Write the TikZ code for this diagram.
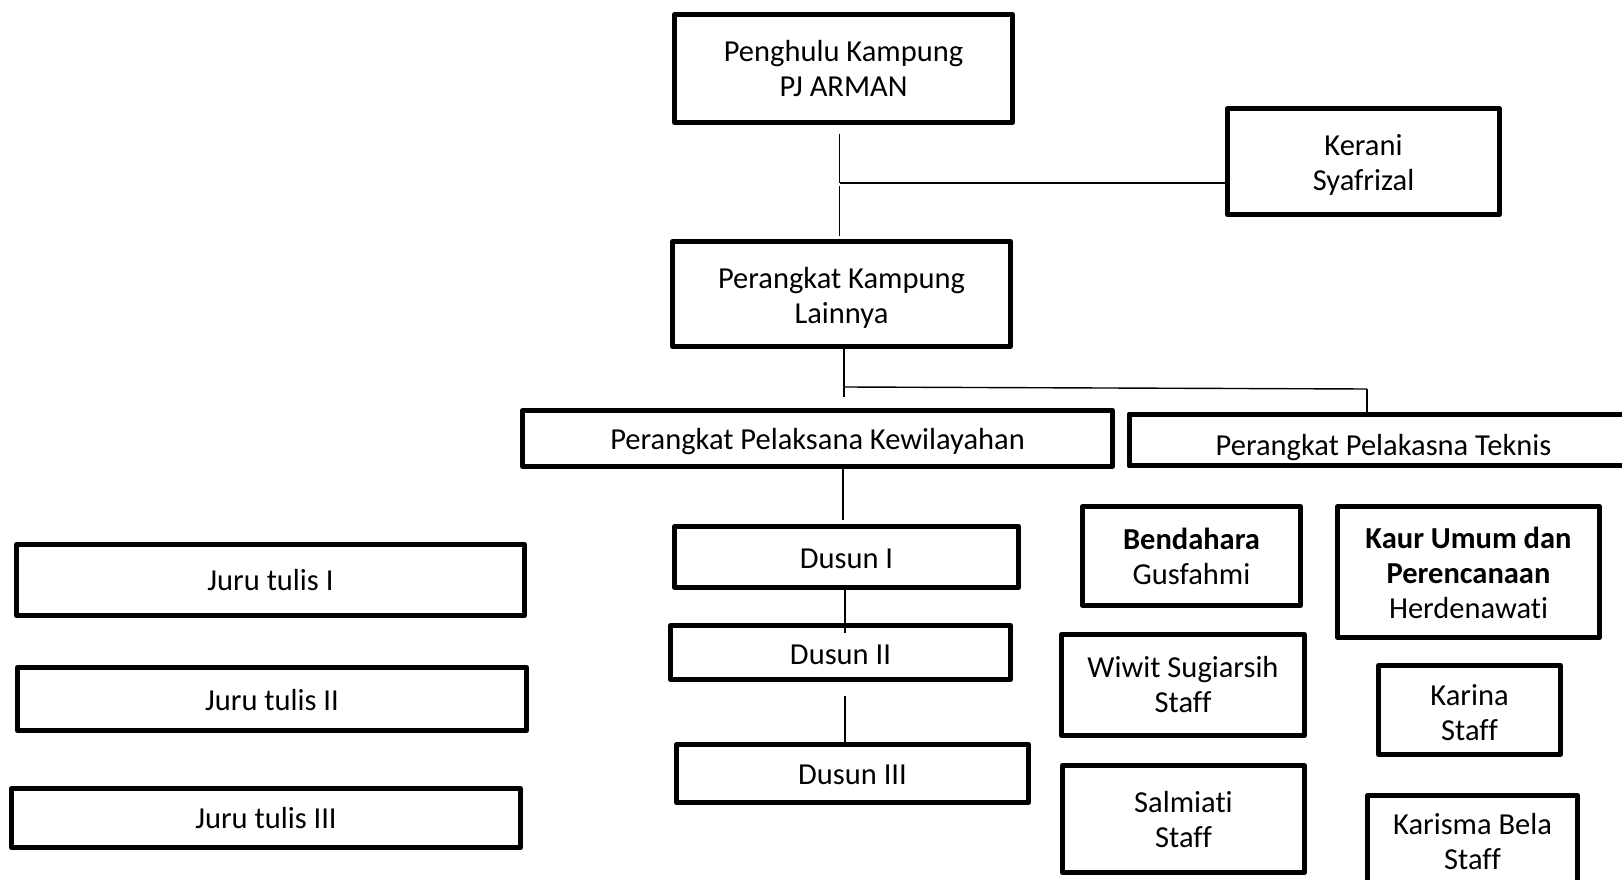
\documentclass[tikz,border=0pt]{standalone}
\usepackage{fontspec}
\setmainfont{Carlito}[RawFeature={-liga;-clig;-calt;-dlig}]
\tikzset{
  box/.style={draw=black, line width=5pt, line join=round, rectangle, inner sep=0pt},
  txt/.style={inner sep=0pt, align=center, font=\fontsize{30.5}{35}\selectfont},
  conn/.style={draw=black, line width=1.4pt}
}
% \orgbox{name}{cx}{cy}{w}{h}{text shift down}{text}
\newcommand{\orgbox}[7]{%
  \node[box, minimum width=#4pt, minimum height=#5pt] (#1) at (#2,#3) {};
  \node[txt] (#1t) at ([yshift=-#6pt]#1.center) {#7};
}
\begin{document}
\begin{tikzpicture}[x=1pt,y=-1pt]
\useasboundingbox (0,0) rectangle (1622,880);
\clip (0,0) rectangle (1622,880);
% top level
\orgbox{pk}{843.5}{68.5}{338}{108}{0}{Penghulu Kampung\\PJ ARMAN}
\orgbox{ker}{1363.5}{161.5}{272}{106}{3}{Kerani\\Syafrizal}
\orgbox{pkl}{841.5}{294}{338}{105}{4}{Perangkat Kampung\\Lainnya}
\orgbox{kew}{817.5}{438.5}{590}{56}{3}{Perangkat Pelaksana Kewilayahan}
% Teknis box with clipped text
\node[box, minimum width=508pt, minimum height=51pt] (tek) at (1383.5,440) {};
\begin{scope}
\clip (tek.south west) rectangle (tek.north east);
\node[txt, anchor=base] (tekt) at (1383.5,455) {Perangkat Pelakasna Teknis};
\end{scope}
\node[box, minimum width=508pt, minimum height=51pt] (tekb) at (1383.5,440) {};
% Dusun
\orgbox{d1}{846.5}{557}{344}{61}{2}{Dusun I}
\orgbox{d2}{840.5}{652.5}{340}{54}{2}{Dusun II}
\orgbox{d3}{852.5}{773.5}{352}{58}{1}{Dusun III}
% Juru tulis
\orgbox{j1}{270.5}{580}{508}{71}{0}{Juru tulis I}
\orgbox{j2}{272}{699}{509}{63}{1}{Juru tulis II}
\orgbox{j3}{266}{818}{509}{59}{0}{Juru tulis III}
% Teknis staff
\orgbox{ben}{1191.5}{556}{218}{99}{0}{\textbf{Bendahara}\\Gusfahmi}
\orgbox{kaur}{1468.5}{572}{262}{131}{1}{\textbf{Kaur Umum dan}\\\textbf{Perencanaan}\\Herdenawati}
\orgbox{wiw}{1183}{685}{243}{101}{0}{Wiwit Sugiarsih\\Staff}
\orgbox{sal}{1183.5}{819}{242}{107}{1}{Salmiati\\Staff}
\orgbox{kar}{1469.5}{710}{182}{89}{3}{Karina\\Staff}
\orgbox{kbs}{1472.5}{841.5}{210}{92}{0}{Karisma Bela\\Staff}
% connectors
\coordinate (a) at (839.5,183);
\draw[conn, shorten <=9pt] (pk.south -| a) -- (a);
\draw[conn, shorten <=3pt, shorten >=3pt] (a) -- (pkl.north -| a);
\draw[conn] (a) -- (ker.west |- a);
\coordinate (b) at (844,387);
\coordinate (c) at (1367,389);
\draw[conn, shorten >=11pt] (pkl.south -| b) -- (kew.north -| b);
\draw[conn] ([xshift=1pt]b) -- (c);
\draw[conn] (c) -- (tek.north -| c);
\coordinate (e) at (843,0);
\draw[conn, shorten >=4pt] (kew.south -| e) -- (d1.north -| e);
\coordinate (f) at (845,0);
\draw[conn, shorten <=-4pt, shorten >=-10pt] (d1.south -| f) -- (d2.north -| f);
\draw[conn, shorten <=14pt] (d2.south -| f) -- (d3.north -| f);
\end{tikzpicture}
\end{document}
